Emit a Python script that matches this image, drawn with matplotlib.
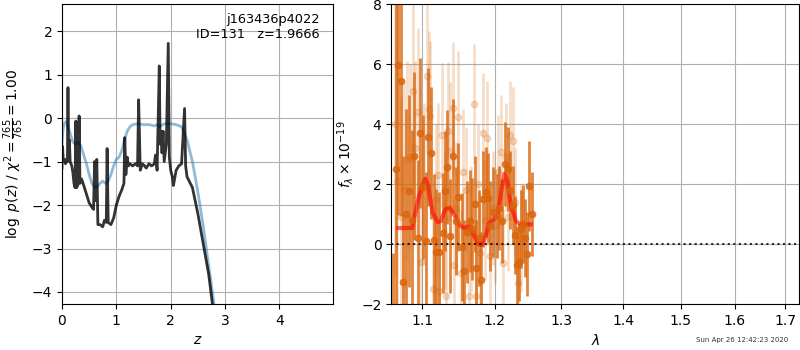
import matplotlib
matplotlib.use("Agg")
import matplotlib.pyplot as plt
from matplotlib.ticker import NullLocator

# left panel: log p(z)
z_pz = [0.000, 0.010, 0.025, 0.045, 0.065, 0.085, 0.100, 0.110, 0.120, 0.135,
        0.150, 0.180, 0.200, 0.220, 0.240, 0.255, 0.270, 0.300, 0.315, 0.330,
        0.360, 0.400, 0.450, 0.500, 0.550, 0.580, 0.600, 0.615, 0.640, 0.660,
        0.700, 0.750, 0.780, 0.815, 0.830, 0.850, 0.900, 0.950, 1.000, 1.050,
        1.100, 1.140, 1.155, 1.175, 1.200, 1.220, 1.250, 1.300, 1.350, 1.390,
        1.410, 1.440, 1.480, 1.520, 1.550, 1.600, 1.650, 1.700, 1.720, 1.750,
        1.790, 1.805, 1.820, 1.840, 1.860, 1.880, 1.920, 1.955, 1.975, 2.000,
        2.030, 2.050, 2.100, 2.150, 2.200, 2.255, 2.275, 2.300, 2.400, 2.500,
        2.600, 2.700, 2.800]
logp = [-1.15, -0.65, -1.00, -0.95, -1.05, -0.95, -1.00, 0.70, -0.90, -0.50,
        -1.00, -1.10, -1.25, -1.50, -1.60, -0.07, -1.60, -1.50, 0.05, -1.50,
        -1.40, -1.55, -1.75, -1.95, -2.05, -2.10, -1.00, -1.90, -0.95, -2.45,
        -2.45, -2.50, -2.35, -2.40, -0.70, -2.40, -2.45, -2.30, -2.00, -1.80,
        -1.65, -1.50, -0.45, -1.30, -0.90, -1.10, -1.05, -1.10, -1.05, -1.10,
        0.42, -1.20, -1.05, -1.10, -1.15, -1.05, -1.10, -1.05, -0.85, -1.20,
        1.20, -0.60, -0.30, -0.80, -0.30, -1.00, -0.60, 1.72, -0.90, -1.20,
        -1.35, -1.55, -1.20, -1.10, -1.05, 0.22, -1.10, -1.35, -1.60, -2.20,
        -2.90, -3.60, -4.60]

z_prior = [0.00, 0.02, 0.05, 0.08, 0.10, 0.15, 0.20, 0.25, 0.30, 0.35,
           0.40, 0.45, 0.50, 0.55, 0.60, 0.65, 0.70, 0.75, 0.80, 0.85,
           0.90, 0.95, 1.00, 1.05, 1.10, 1.15, 1.20, 1.25, 1.30, 1.40,
           1.50, 1.60, 1.70, 1.75, 1.80, 1.85, 1.90, 2.00, 2.10, 2.20,
           2.30, 2.40, 2.50, 2.60, 2.70, 2.80, 2.85]
logp_prior = [-0.60, -0.25, -0.10, -0.08, -0.15, -0.35, -0.55, -0.60, -0.55, -0.65,
              -0.85, -1.05, -1.30, -1.50, -1.60, -1.58, -1.50, -1.45, -1.50, -1.45,
              -1.30, -1.10, -0.95, -0.90, -0.75, -0.50, -0.30, -0.20, -0.15, -0.13,
              -0.15, -0.15, -0.18, -0.15, -0.20, -0.15, -0.13, -0.13, -0.15, -0.20,
              -0.50, -1.00, -1.70, -2.50, -3.40, -4.30, -4.80]

# right panel: spectrum
dark_wave = [1.062, 1.066, 1.069, 1.072, 1.075, 1.079, 1.083, 1.087, 1.090, 1.094,
             1.097, 1.101, 1.105, 1.108, 1.112, 1.116, 1.119, 1.123, 1.128, 1.131,
             1.134, 1.138, 1.142, 1.146, 1.149, 1.154, 1.157, 1.161, 1.165, 1.168,
             1.172, 1.174, 1.177, 1.180, 1.183, 1.187, 1.191, 1.194, 1.198, 1.203,
             1.207, 1.211, 1.215, 1.220, 1.223, 1.226, 1.229, 1.232, 1.235, 1.238,
             1.241, 1.244, 1.247, 1.250, 1.255]
dark_flux = [-3.5, 2.5, 5.97, 5.43, -1.27, 1.0, 1.76, 0.8, 2.95, 0.2,
             3.7, 1.9, 0.09, 3.57, 3.05, 0.15, -0.27, -0.27, 0.37, 1.76,
             2.58, 0.28, 2.95, 0.77, 1.58, -0.1, -0.89, 0.41, 0.77, 0.5,
             1.33, -0.79, 0.2, -1.18, 1.5, 1.75, 1.53, 0.6, 1.08, 0.94,
             1.2, 0.77, 2.68, 2.52, 1.8, 1.3, 0.3, -0.7, -0.6, 0.49,
             0.66, 0.2, -0.33, 1.93, 0.99]
dark_err = [3.2, 6.0, 5.0, 4.5, 4.2, 3.5, 3.2, 3.0, 2.8, 2.6,
            2.5, 2.4, 2.3, 2.3, 2.2, 2.2, 2.1, 2.0, 2.0, 2.0,
            1.9, 1.9, 1.9, 1.8, 1.8, 1.8, 1.7, 1.7, 1.7, 1.7,
            1.6, 1.6, 1.6, 1.6, 1.6, 1.5, 1.5, 1.5, 1.5, 1.4,
            1.4, 1.4, 1.4, 1.4, 1.3, 1.3, 1.3, 1.3, 1.3, 1.3,
            1.3, 1.3, 1.4, 1.5, 1.4]

light_wave = [1.065, 1.068, 1.072, 1.076, 1.080, 1.084, 1.088, 1.091, 1.094, 1.098,
              1.102, 1.106, 1.109, 1.111, 1.114, 1.118, 1.121, 1.123, 1.127, 1.130,
              1.132, 1.135, 1.138, 1.141, 1.143, 1.146, 1.149, 1.152, 1.156, 1.160,
              1.164, 1.167, 1.170, 1.173, 1.176, 1.179, 1.183, 1.186, 1.189, 1.193,
              1.197, 1.201, 1.205, 1.209, 1.212, 1.216, 1.219, 1.222, 1.226, 1.230,
              1.234, 1.238]
light_flux = [4.0, 2.1, 0.9, 1.8, 2.8, 2.9, 5.1, 3.2, 4.4, -0.6,
              2.0, 5.6, 4.5, 4.27, -1.5, 1.5, 2.3, -1.55, 3.65, 0.8,
              -1.72, 3.76, 3.1, 4.55, -0.7, 1.2, 4.25, -0.95, 2.4, 1.8,
              -1.74, 0.5, 4.67, -1.74, 2.0, -0.3, 3.7, 0.8, 3.53, -0.4,
              1.2, 0.6, 2.4, 3.06, -0.64, 2.9, 0.9, 3.63, 3.45, 1.4,
              -1.3, 0.2]
light_err = [5.0, 4.5, 4.0, 3.6, 3.3, 3.1, 3.0, 2.9, 2.8, 2.7,
             2.7, 2.6, 2.6, 2.5, 2.5, 2.5, 2.4, 2.4, 2.4, 2.3,
             2.3, 2.3, 2.3, 2.2, 2.2, 2.2, 2.2, 2.1, 2.1, 2.1,
             2.1, 2.1, 2.0, 2.0, 2.0, 2.0, 2.0, 2.0, 1.9, 1.9,
             1.9, 1.9, 1.9, 1.9, 1.8, 1.8, 1.8, 1.8, 1.8, 1.8,
             1.8, 1.8]

model_wave = [1.069, 1.087, 1.096, 1.104, 1.108, 1.114, 1.121, 1.125, 1.131, 1.137,
              1.144, 1.152, 1.158, 1.163, 1.169, 1.177, 1.182, 1.187, 1.192, 1.199,
              1.205, 1.210, 1.214, 1.218, 1.224, 1.231, 1.238, 1.253]
model_flux = [0.54, 0.54, 1.62, 2.18, 1.95, 1.05, 0.73, 0.77, 1.16, 1.22,
              0.94, 0.60, 0.54, 0.60, 0.37, 0.00, -0.02, 0.26, 0.71, 0.82,
              1.05, 1.84, 2.35, 2.12, 1.28, 0.77, 0.66, 0.66]

lam_ticks = [1.1, 1.2, 1.3, 1.4, 1.5, 1.6, 1.7]
orange = (0.85, 0.40, 0.05)

fig = plt.figure(figsize=(8, 3.5), dpi=100)
ax1 = fig.add_axes([0.0775, 0.131, 0.339, 0.857])
ax2 = fig.add_axes([0.489, 0.131, 0.510, 0.857])

ax1.plot(z_prior, logp_prior, color="tab:blue", alpha=0.5, lw=2)
ax1.plot(z_pz, logp, color="k", alpha=0.8, lw=2)
ax1.set_xlim(0, 4.99)
ax1.set_ylim(-4.28, 2.62)
ax1.set_xticks([0, 1, 2, 3, 4])
ax1.set_yticks([-4, -3, -2, -1, 0, 1, 2])
ax1.grid()
ax1.set_xlabel("$z$")
ax1.set_ylabel(r"$\log\ p(z)$ / $\chi^2=\frac{765}{765}=1.00$")
ax1.text(0.95, 0.97, "j163436p4022\nID=131   z=1.9666", transform=ax1.transAxes,
         ha="right", va="top", fontsize=9.3)

ax2.errorbar(light_wave, light_flux, light_err, marker="o", ms=4.5, linestyle="none",
             color=orange, alpha=0.22, lw=2)
ax2.errorbar(dark_wave, dark_flux, dark_err, marker="o", ms=4.5, linestyle="none",
             color=orange, alpha=0.8, lw=2)
ax2.plot(model_wave, model_flux, color="red", alpha=0.6, lw=3)
ax2.axhline(0, color="k", linestyle=":", lw=1.5, alpha=0.8)
ax2.set_xscale("log")
ax2.set_xlim(1.06, 1.729)
ax2.set_ylim(-2, 8)
ax2.set_xticks(lam_ticks, [str(t) for t in lam_ticks])
ax2.xaxis.set_minor_locator(NullLocator())
ax2.grid()
ax2.set_xlabel(r"$\lambda$")
ax2.set_ylabel(r"$f_\lambda\times10^{-19}$")

fig.text(0.985, 0.02, "Sun Apr 26 12:42:23 2020", ha="right", va="bottom",
         fontsize=5, color="0.2")

fig.savefig("out.png", dpi=100)
